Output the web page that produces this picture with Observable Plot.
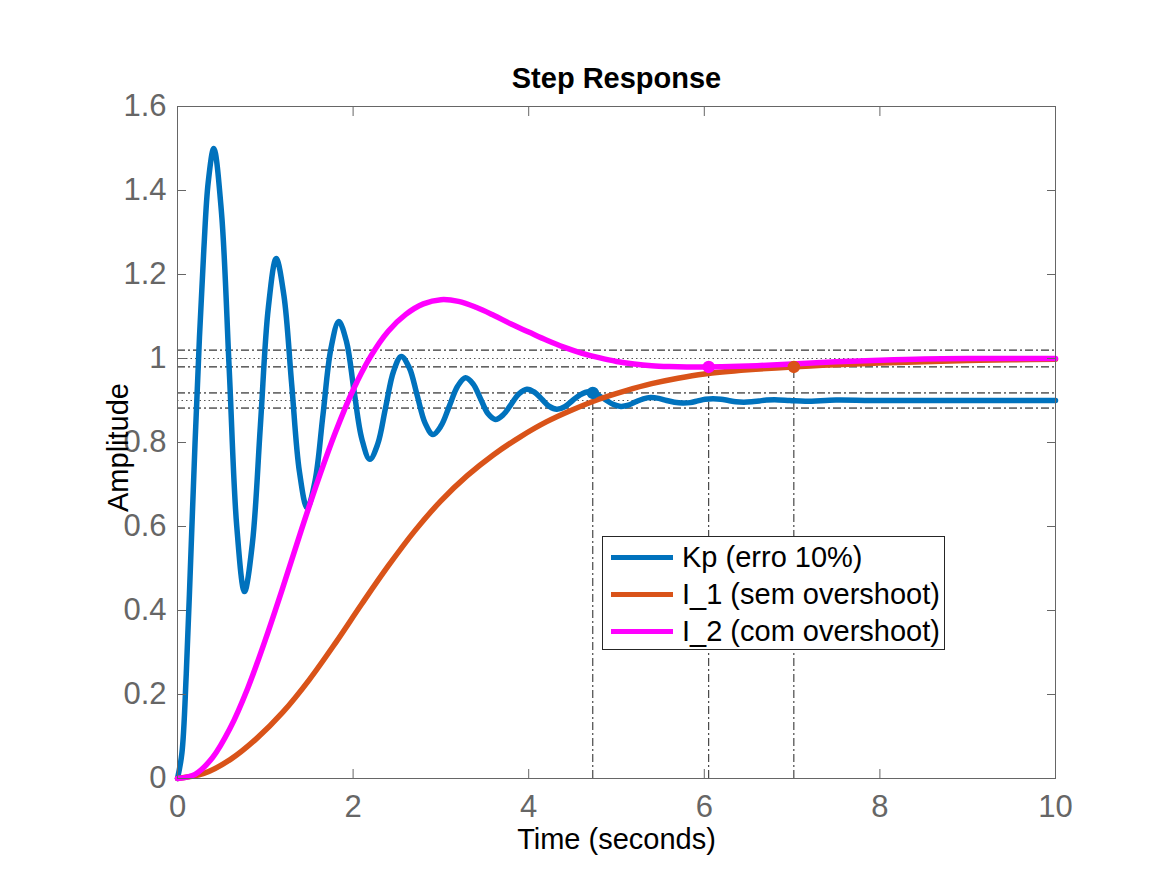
<!DOCTYPE html>
<html>
<head>
<meta charset="utf-8">
<script src="https://cdn.jsdelivr.net/npm/d3@7"></script>
<script src="https://cdn.jsdelivr.net/npm/@observablehq/plot@0.6"></script>
<style>
  body { margin: 0; background: #fff; }
  #wrap { position: relative; width: 1167px; height: 875px; font-family: "Liberation Sans", Arial, Helvetica, sans-serif; }
  #legend { position: absolute; left: 602px; top: 536px; width: 343px; height: 114px; border: 1px solid #262626; background: #fff; box-sizing: border-box; }
  .row { position: absolute; left: 0; height: 37px; display: flex; align-items: center; }
  .sw { width: 62px; height: 5px; margin-left: 8px; margin-right: 9px; }
  .lbl { font-size: 29px; color: #000; white-space: nowrap; }
</style>
</head>
<body>
<div id="wrap"></div>
<script>
// ---- Data ----
const seriesNames = ["Kp (erro 10%)", "I_1 (sem overshoot)", "I_2 (com overshoot)"];
const seriesColors = ["#0072BD", "#D95319", "#FF00FF"];

// Kp (erro 10%) — blue
const kpT = [0,0.05,0.1,0.15,0.2,0.25,0.3,0.35,0.413,0.5,0.59,0.675,0.763,0.853,0.944,1.034,1.124,1.212,1.30,1.389,1.477,1.567,1.657,1.747,1.837,1.925,2.01,2.10,2.19,2.28,2.37,2.46,2.548,2.64,2.73,2.82,2.91,3.0,3.095,3.19,3.28,3.365,3.45,3.535,3.62,3.71,3.8,3.89,3.98,4.065,4.15,4.235,4.32,4.41,4.5,4.59,4.68,4.77,4.865,4.96,5.05,5.135,5.22,5.305,5.39,5.48,5.57,5.66,5.75,5.84,5.925,6.01,6.1,6.19,6.275,6.36,6.45,6.54,6.625,6.71,6.8,6.975,7.15,7.5,7.9,8.5,10];
const kpY = [0,0.06,0.25,0.52,0.8,1.05,1.26,1.42,1.5,1.35,0.97,0.6,0.445,0.56,0.84,1.12,1.238,1.15,0.94,0.73,0.644,0.709,0.866,1.023,1.088,1.04,0.924,0.808,0.76,0.796,0.883,0.969,1.005,0.978,0.912,0.846,0.819,0.839,0.886,0.934,0.954,0.94,0.905,0.869,0.855,0.866,0.891,0.916,0.927,0.92,0.903,0.886,0.879,0.885,0.9,0.914,0.921,0.915,0.903,0.891,0.886,0.889,0.897,0.904,0.907,0.905,0.9,0.896,0.894,0.895,0.899,0.903,0.904,0.903,0.9,0.897,0.896,0.897,0.899,0.901,0.902,0.9,0.898,0.901,0.9,0.9,0.9];

// I_1 (sem overshoot) — orange
const i1T = [0,0.3,0.6,0.9,1.2,1.5,1.8,2.1,2.4,2.7,3.0,3.3,3.6,3.9,4.2,4.5,4.8,5.1,5.4,5.7,6.0,6.5,7.0,7.5,8.0,8.5,9.0,9.5,10];
const i1Y = [0,0.012,0.045,0.095,0.158,0.235,0.323,0.416,0.506,0.589,0.661,0.721,0.771,0.813,0.849,0.878,0.903,0.923,0.94,0.953,0.963,0.973,0.98,0.985,0.989,0.992,0.995,0.997,0.998];

// I_2 (com overshoot) — magenta
const i2T = [0,0.2,0.4,0.6,0.8,1.0,1.2,1.4,1.6,1.8,2.0,2.2,2.4,2.6,2.8,3.0,3.2,3.4,3.6,3.8,4.0,4.2,4.4,4.6,4.8,5.0,5.2,5.4,5.6,5.8,6.0,6.3,6.6,7.0,7.5,8.0,8.5,9.0,10];
const i2Y = [0,0.01,0.05,0.12,0.215,0.33,0.455,0.585,0.71,0.825,0.925,1.005,1.065,1.105,1.13,1.14,1.136,1.122,1.103,1.082,1.063,1.044,1.027,1.013,1.002,0.993,0.987,0.983,0.981,0.98,0.98,0.981,0.983,0.987,0.992,0.996,0.999,1.0,1.0];

// settling-time points
const settleT = [4.73, 7.02, 6.05];
const settleY = [0.918, 0.98, 0.98];
// settling bands (dash-dot) and final values (dotted)
const bandLevels = [1.02, 0.98, 0.918, 0.882];
const finalLevels = [1.0, 0.9];

// axes
const xTicks = [0, 2, 4, 6, 8, 10];
const xTickLabels = ["0", "2", "4", "6", "8", "10"];
const yTicks = [0, 0.2, 0.4, 0.6, 0.8, 1.0, 1.2, 1.4, 1.6];
const yTickLabels = ["0", "0.2", "0.4", "0.6", "0.8", "1", "1.2", "1.4", "1.6"];

// ---- Build tables ----
const zipSeries = (T, Y, k) => T.map((t, i) => ({t, v: Y[i], s: seriesNames[k]}));
const lines = [zipSeries(kpT, kpY, 0), zipSeries(i1T, i1Y, 1), zipSeries(i2T, i2Y, 2)];
const settle = settleT.map((t, i) => ({t, v: settleY[i], c: seriesColors[i]}));

const dashDot = "8,3,2,3";
const axisColor = "#666";
const font = "Liberation Sans, Arial, Helvetica, sans-serif";

const chart = Plot.plot({
  width: 1167,
  height: 875,
  marginLeft: 177,
  marginRight: 112,
  marginTop: 106,
  marginBottom: 97,
  x: {domain: [0, 10]},
  y: {domain: [0, 1.6]},
  style: {fontFamily: font, background: "#fff", overflow: "visible"},
  marks: [
    Plot.ruleY(bandLevels, {stroke: "#000", strokeWidth: 1, strokeDasharray: dashDot}),
    Plot.ruleY(finalLevels, {stroke: "#555", strokeWidth: 1, strokeDasharray: "1.5,3"}),
    Plot.ruleX(settle, {x: "t", y1: d => 0, y2: "v", stroke: "#222", strokeWidth: 1, strokeDasharray: dashDot}),
    ...lines.map((data, k) => Plot.line(data, {x: "t", y: "v", stroke: seriesColors[k], strokeWidth: 5.5, curve: "catmull-rom"})),
    Plot.dot(settle, {x: "t", y: "v", r: 5.5, fill: "c", stroke: "c"}),
    Plot.frame({stroke: axisColor, strokeWidth: 1}),
    // inward ticks on all four sides
    Plot.axisX(xTicks, {anchor: "bottom", tickSize: -9, tickFormat: () => "", label: null, color: axisColor}),
    Plot.axisX(xTicks, {anchor: "top", tickSize: -9, tickFormat: () => "", label: null, color: axisColor}),
    Plot.axisY(yTicks, {anchor: "left", tickSize: -9, tickFormat: () => "", label: null, color: axisColor}),
    Plot.axisY(yTicks, {anchor: "right", tickSize: -9, tickFormat: () => "", label: null, color: axisColor}),
    // tick labels
    Plot.axisX(xTicks, {anchor: "bottom", tickSize: 0, tickPadding: 16, tickFormat: d => xTickLabels[xTicks.indexOf(d)], label: null, fontSize: 31, color: axisColor}),
    Plot.axisY(yTicks, {anchor: "left", tickSize: 0, tickPadding: 11, tickFormat: d => yTickLabels[yTicks.indexOf(d)], label: null, fontSize: 31, color: axisColor}),
    // title and axis labels
    Plot.text(["Step Response"], {frameAnchor: "top", dy: -28, fontSize: 29, fontWeight: "bold", fill: "#000", lineAnchor: "middle"}),
    Plot.text(["Time (seconds)"], {frameAnchor: "bottom", dy: 61, fontSize: 29, fill: "#000", lineAnchor: "middle"}),
    Plot.text(["Amplitude"], {frameAnchor: "left", dx: -59, dy: 5, rotate: -90, fontSize: 29, fill: "#000", lineAnchor: "middle", textAnchor: "middle"})
  ]
});

const wrap = document.getElementById("wrap");
wrap.appendChild(chart);

// legend
const legend = document.createElement("div");
legend.id = "legend";
seriesNames.forEach((name, i) => {
  const row = document.createElement("div");
  row.className = "row";
  row.style.top = (2 + i * 37) + "px";
  const sw = document.createElement("div");
  sw.className = "sw";
  sw.style.background = seriesColors[i];
  const lbl = document.createElement("span");
  lbl.className = "lbl";
  lbl.textContent = name;
  row.appendChild(sw);
  row.appendChild(lbl);
  legend.appendChild(row);
});
wrap.appendChild(legend);
</script>
</body>
</html>
